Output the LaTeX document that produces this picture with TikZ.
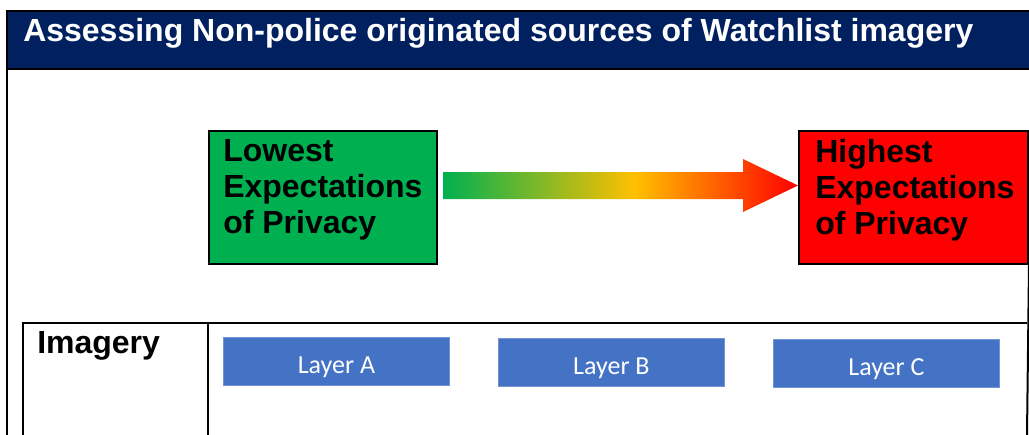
\documentclass[tikz,border=0pt]{standalone}
\usepackage{fontspec}
\setmainfont{Liberation Sans}
\newfontfamily\calib{Carlito}
\usetikzlibrary{calc}
\definecolor{navy}{HTML}{002060}
\definecolor{pgreen}{HTML}{00B050}
\definecolor{pred}{HTML}{FF0000}
\definecolor{pyellow}{HTML}{FFC000}
\definecolor{layerblue}{HTML}{4472C4}
\pgfdeclarehorizontalshading{privgrad}{100bp}{color(0bp)=(pgreen); color(25bp)=(pgreen); color(52bp)=(pyellow); color(75bp)=(pred); color(100bp)=(pred)}
\tikzset{
  rule/.style={line width=1.5pt, draw=black},
  privbox/.style={draw=black, line width=1.5pt, anchor=north west, inner sep=0pt,
    minimum width=228*0.75pt, minimum height=133*0.75pt},
  privtext/.style={anchor=north west, inner sep=0pt, align=left,
    font=\fontsize{24}{27}\bfseries\selectfont},
  layerbox/.style={fill=layerblue, draw=layerblue!75!white, line width=0.6pt, anchor=north west,
    minimum width=226*0.75pt, minimum height=48*0.75pt, inner sep=0pt, text=white,
    font=\calib\fontsize{19.5}{23}\selectfont, text height=18pt, text depth=0pt},
  boldlabel/.style={anchor=base west, inner sep=0pt, font=\fontsize{24}{28}\bfseries\selectfont}
}
\begin{document}
\begin{tikzpicture}[x=0.75pt, y=-0.75pt]
\useasboundingbox (0,0) rectangle (1029,435);
% header band
\fill[navy] (7,11) rectangle (1029,69);
\draw[rule] (1029,11) -- (7,11) -- (7,435);
\draw[rule] (7,69) -- (1029,69);
\node[boldlabel, text=white] (title) at (23,42) {Assessing Non-police originated sources of Watchlist imagery};
% privacy boxes
\node[privbox, fill=pgreen] (low) at (208,130) {};
\node[privbox, fill=pred, minimum width=229*0.75pt] (high) at (798,130) {};
\node[privtext] (lowtext) at (223,139) {Lowest\\Expectations\\of Privacy};
\node[privtext] (hightext) at (815,139) {Highest\\Expectations\\of Privacy};
% gradient arrow
\coordinate (as) at (443,185.5);
\coordinate (at) at (high.west |- as);
\coordinate (ahb) at (743,185.5);
\shade[shading=privgrad] ($(as)+(0,-13.5)$) -- ($(ahb)+(0,-13.5)$) -- ($(ahb)+(0,-26.5)$) -- (at)
  -- ($(ahb)+(0,26.5)$) -- ($(ahb)+(0,13.5)$) -- ($(as)+(0,13.5)$) -- cycle;
% table lines
\draw[rule] (high.south east) -- (1027,435);
\draw[rule] (23,435) -- (23,323) -- (1027,323);
\draw[rule] (208,323) -- (208,435);
\node[boldlabel] (img) at (37,353) {Imagery};
% layers
\node[layerbox] (la) at (223,337) {Layer A};
\node[layerbox] (lb) at (498,338) {Layer B};
\node[layerbox] (lc) at (773,339) {Layer C};
\end{tikzpicture}
\end{document}
